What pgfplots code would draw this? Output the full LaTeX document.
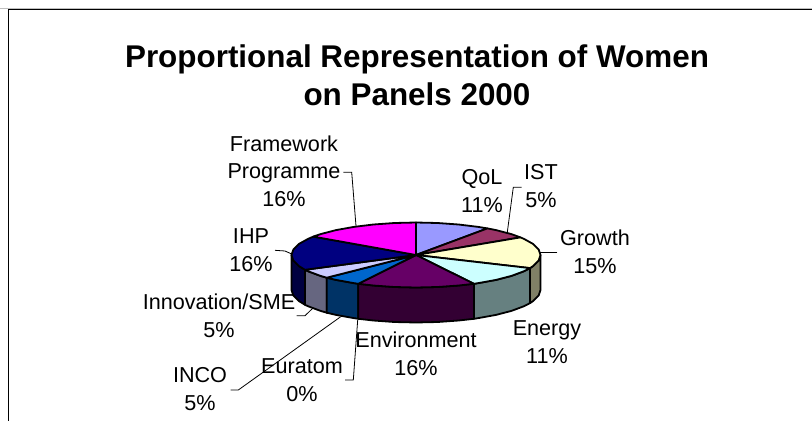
\documentclass[border=0pt]{standalone}
\usepackage{pgfplots}
\pgfplotsset{compat=1.18}
\usepackage{fontspec}
\setmainfont{Liberation Sans}
% face colours
\definecolor{qol}{HTML}{9999FF}
\definecolor{ist}{HTML}{993366}
\definecolor{growth}{HTML}{FFFFCC}
\definecolor{energy}{HTML}{CCFFFF}
\definecolor{env}{HTML}{660066}
\definecolor{inco}{HTML}{0066CC}
\definecolor{innov}{HTML}{CCCCFF}
\definecolor{ihp}{HTML}{000080}
\definecolor{fp}{HTML}{FF00FF}
% rim colours
\definecolor{growthS}{HTML}{808066}
\definecolor{energyS}{HTML}{668080}
\definecolor{envS}{HTML}{330033}
\definecolor{incoS}{HTML}{003366}
\definecolor{innovS}{HTML}{666680}
\definecolor{ihpS}{HTML}{000040}
\tikzset{
slice/.style={draw=black,line width=1.8pt,line join=round,fill=#1},
leader/.style={draw=black,line width=0.8pt},
lab/.style={font=\fontsize{21.6}{27.5}\selectfont,align=center,anchor=center,inner sep=0pt}}
\begin{document}
\begin{tikzpicture}
\begin{axis}[
at={(0,0)},anchor=south west,
width=812pt,height=421pt,scale only axis,
xmin=0,xmax=812,ymin=0,ymax=421,y dir=reverse,
hide axis]
% hidden axis adds no box of its own
\path (axis cs:0,0) rectangle (axis cs:812,421);
% frame
\addplot[draw=black!25,line width=1pt] coordinates {(0,8) (812,8)};
\addplot[draw=black,line width=1pt] coordinates {(812,9.5) (8.5,9.5) (8.5,421)};
% rim
\addplot[slice=ihpS] coordinates {(291.5,255) (293.4,260.6) (299,266.1) (305,269.8) (305,304.8) (299,301.1) (293.4,295.6) (291.5,290)} --cycle;
\addplot[slice=innovS] coordinates {(305,269.8) (308.2,271.3) (320.6,275.9) (326.7,277.7) (326.7,312.7) (320.6,310.9) (308.2,306.3) (305,304.8)} --cycle;
\addplot[slice=incoS] coordinates {(326.7,277.7) (336,279.9) (353.8,283.1) (358.3,283.8) (358.3,318.8) (353.8,318.1) (336,314.9) (326.7,312.7)} --cycle;
\addplot[slice=envS] coordinates {(358.3,283.8) (373.4,285.5) (394.4,287) (416,287.5) (437.6,287) (458.6,285.5) (474,283.8) (474,318.8) (458.6,320.5) (437.6,322) (416,322.5) (394.4,322) (373.4,320.5) (358.3,318.8)} --cycle;
\addplot[slice=energyS] coordinates {(474,283.8) (478.3,283.1) (496,279.9) (511.4,275.9) (523.8,271.3) (530,268.1) (530,303.1) (523.8,306.3) (511.4,310.9) (496,314.9) (478.3,318.1) (474,318.8)} --cycle;
\addplot[slice=growthS] coordinates {(530,268.1) (533,266.1) (538.6,260.6) (540.5,255) (540.5,290) (538.6,295.6) (533,301.1) (530,303.1)} --cycle;
% top faces
\addplot[slice=qol] coordinates {(416,255) (416,222.5) (437.6,223) (458.6,224.5) (478.3,226.9) (487.4,228.4)} --cycle;
\addplot[slice=ist] coordinates {(416,255) (487.4,228.4) (496,230.1) (511.4,234.1) (520.4,237.4)} --cycle;
\addplot[slice=growth] coordinates {(416,255) (520.4,237.4) (523.8,238.8) (533,243.9) (538.6,249.4) (540.5,255) (538.6,260.6) (533,266.1) (530,268.1)} --cycle;
\addplot[slice=energy] coordinates {(416,255) (530,268.1) (523.8,271.3) (511.4,275.9) (496,279.9) (478.3,283.1) (474,283.8)} --cycle;
\addplot[slice=env] coordinates {(416,255) (474,283.8) (458.6,285.5) (437.6,287) (416,287.5) (394.4,287) (373.4,285.5) (358.3,283.8)} --cycle;
\addplot[slice=inco] coordinates {(416,255) (358.3,283.8) (353.8,283.1) (336,279.9) (326.7,277.7)} --cycle;
\addplot[slice=innov] coordinates {(416,255) (326.7,277.7) (320.6,275.9) (308.2,271.3) (305,269.8)} --cycle;
\addplot[slice=ihp] coordinates {(416,255) (305,269.8) (299,266.1) (293.4,260.6) (291.5,255) (293.4,249.4) (299,243.9) (308.2,238.8) (313.3,236.6)} --cycle;
\addplot[slice=fp] coordinates {(416,255) (313.3,236.6) (320.6,234.1) (336,230.1) (353.8,226.9) (373.4,224.5) (394.4,223) (416,222.5)} --cycle;
% leader lines
\addplot[leader] coordinates {(343.3,172.3) (351.7,172.3) (356,226)};
\addplot[leader] coordinates {(275,250.3) (285,251) (291.7,254)};
\addplot[leader] coordinates {(521.7,187.3) (513.3,187.3) (507.3,232.3)};
\addplot[leader] coordinates {(557.3,252.3) (540,252.3)};
\addplot[leader] coordinates {(296.7,315.7) (305,315.7) (312.7,308.3)};
\addplot[leader] coordinates {(230.7,390) (238.3,390) (340.7,316.7)};
\addplot[leader] coordinates {(345,380) (353.3,380) (357.7,320)};
% text
\node[font=\fontsize{31.4}{38.5}\selectfont\bfseries,align=center,anchor=center] at (axis cs:417,75.5) {Proportional Representation of Women\\on Panels 2000};
\node[lab] at (axis cs:284,171) {Framework\\Programme\\16\%};
\node[lab] at (axis cs:482,191) {QoL\\11\%};
\node[lab] at (axis cs:541,186) {IST\\5\%};
\node[lab] at (axis cs:595,252) {Growth\\15\%};
\node[lab] at (axis cs:547,342) {Energy\\11\%};
\node[lab] at (axis cs:416,354) {Environment\\16\%};
\node[lab] at (axis cs:302,380) {Euratom\\0\%};
\node[lab] at (axis cs:200,389) {INCO\\5\%};
\node[lab] at (axis cs:219,316) {Innovation/SME\\5\%};
\node[lab] at (axis cs:251,250) {IHP\\16\%};
\end{axis}
\end{tikzpicture}
\end{document}
